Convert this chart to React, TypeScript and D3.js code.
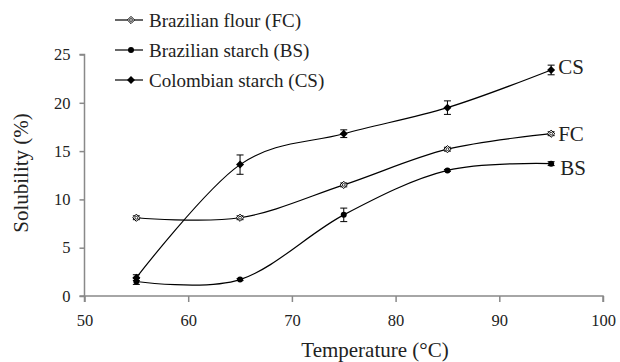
import React, { useEffect, useRef } from 'react';
import * as d3 from 'd3';

const temps = [55, 65, 75, 85, 95];
const flourFC = [8.1, 8.1, 11.5, 15.2, 16.8];
const flourFCErr = [0.2, 0.2, 0.2, 0.2, 0.2];
const starchBS = [1.5, 1.7, 8.4, 13.0, 13.7];
const starchBSErr = [0.3, 0.1, 0.7, 0.1, 0.2];
const starchCS = [1.9, 13.6, 16.8, 19.5, 23.4];
const starchCSErr = [0.3, 1.0, 0.4, 0.7, 0.5];
const xTicks = [50, 60, 70, 80, 90, 100];
const yTicks = [0, 5, 10, 15, 20, 25];

interface Series {
  name: string;
  tag: string;
  values: number[];
  errs: number[];
  marker: 'openDiamond' | 'circle' | 'diamond';
  tagDx: number;
  tagDy: number;
}

const series: Series[] = [
  { name: 'Brazilian flour (FC)', tag: 'FC', values: flourFC, errs: flourFCErr, marker: 'openDiamond', tagDx: 7, tagDy: 7 },
  { name: 'Brazilian starch (BS)', tag: 'BS', values: starchBS, errs: starchBSErr, marker: 'circle', tagDx: 9, tagDy: 11 },
  { name: 'Colombian starch (CS)', tag: 'CS', values: starchCS, errs: starchCSErr, marker: 'diamond', tagDx: 7, tagDy: 4 },
];

const font = "'Liberation Serif', 'Times New Roman', serif";
const axisGrey = '#898989';
const textCol = '#222';

function drawMarker(g: any, kind: string, x: number, y: number) {
  if (kind === 'circle') {
    g.append('circle').attr('cx', x).attr('cy', y).attr('r', 3).attr('fill', '#000');
  } else if (kind === 'diamond') {
    const s = 4;
    g.append('path')
      .attr('d', `M${x},${y - s}L${x + s},${y}L${x},${y + s}L${x - s},${y}Z`)
      .attr('fill', '#000');
  } else {
    const s = 3.6;
    g.append('path')
      .attr('d', `M${x},${y - s}L${x + s},${y}L${x},${y + s}L${x - s},${y}Z`)
      .attr('fill', '#fff')
      .attr('stroke', '#000')
      .attr('stroke-width', 1);
    g.append('circle').attr('cx', x).attr('cy', y).attr('r', 1.4).attr('fill', 'none').attr('stroke', '#000').attr('stroke-width', 0.8);
  }
}

const SolubilityChart: React.FC = () => {
  const svgRef = useRef<SVGSVGElement>(null);

  useEffect(() => {
    if (!svgRef.current) return;
    const svg = d3.select(svgRef.current);
    svg.selectAll('*').remove();

    const x = d3.scaleLinear().domain([50, 100]).range([84.5, 603]);
    const y = d3.scaleLinear().domain([0, 25]).range([296, 54.5]);

    // axes
    const xAxis = svg.append('g').attr('transform', `translate(0,${y(0)})`)
      .call(d3.axisBottom(x).tickValues(xTicks).tickSize(6).tickFormat(d3.format('d')));
    const yAxis = svg.append('g').attr('transform', `translate(${x(50)},0)`)
      .call(d3.axisLeft(y).tickValues(yTicks).tickSize(5).tickFormat(d3.format('d')));
    [xAxis, yAxis].forEach((a) => {
      a.attr('font-family', null).attr('font-size', null);
      a.select('.domain').attr('stroke', axisGrey).attr('stroke-width', 1.5);
      a.selectAll('.tick line').attr('stroke', axisGrey).attr('stroke-width', 1.5);
      a.selectAll('.tick text').attr('fill', textCol).style('font-family', font).style('font-size', '16.5px');
    });
    xAxis.select('.domain').attr('d', `M${x(50)},6V0H${x(100)}V6`);
    yAxis.select('.domain').attr('d', `M-5,${y(25)}H0V${y(0)}H-5`);
    xAxis.selectAll('.tick text').attr('dy', '1.3em');
    yAxis.selectAll('.tick text').attr('x', -14);

    // axis titles
    svg.append('text')
      .attr('x', 375).attr('y', 357)
      .attr('text-anchor', 'middle')
      .style('font-family', font).style('font-size', '21px').attr('fill', textCol)
      .text('Temperature (°C)');
    svg.append('text')
      .attr('transform', `translate(28,173) rotate(-90)`)
      .attr('text-anchor', 'middle')
      .style('font-family', font).style('font-size', '21px').attr('fill', textCol)
      .text('Solubility (%)');

    const line = d3.line<number>()
      .x((_, i) => x(temps[i]))
      .y((d) => y(d))
      .curve(d3.curveCardinal.tension(0));

    series.forEach((s) => {
      const g = svg.append('g');
      g.append('path')
        .attr('d', line(s.values) ?? '')
        .attr('fill', 'none')
        .attr('stroke', '#000')
        .attr('stroke-width', 1.2);
      s.values.forEach((v, i) => {
        const cx = x(temps[i]);
        const e = s.errs[i];
        g.append('path')
          .attr('d', `M${cx - 3.5},${y(v + e)}H${cx + 3.5}M${cx},${y(v + e)}V${y(v - e)}M${cx - 3.5},${y(v - e)}H${cx + 3.5}`)
          .attr('stroke', '#000').attr('stroke-width', 1).attr('fill', 'none');
        drawMarker(g, s.marker, cx, y(v));
      });
      const last = s.values[s.values.length - 1];
      svg.append('text')
        .attr('x', x(temps[temps.length - 1]) + s.tagDx)
        .attr('y', y(last) + s.tagDy)
        .style('font-family', font).style('font-size', '21px').attr('fill', textCol)
        .text(s.tag);
    });

    // legend
    const legend = svg.append('g');
    series.forEach((s, i) => {
      const ly = 20 + i * 30;
      legend.append('line')
        .attr('x1', 115).attr('x2', 143).attr('y1', ly).attr('y2', ly)
        .attr('stroke', '#000').attr('stroke-width', 1.2);
      drawMarker(legend, s.marker, 131, ly);
      legend.append('text')
        .attr('x', 149).attr('y', ly + 6.5)
        .style('font-family', font).style('font-size', '19px').attr('fill', textCol)
        .text(s.name);
    });
  }, []);

  return <svg ref={svgRef} width={620} height={362} style={{ display: 'block', background: '#fff' }}></svg>;
};

export default function App() {
  return (
    <div style={{ position: 'absolute', left: 0, top: 0 }}>
      <SolubilityChart />
    </div>
  );
}
